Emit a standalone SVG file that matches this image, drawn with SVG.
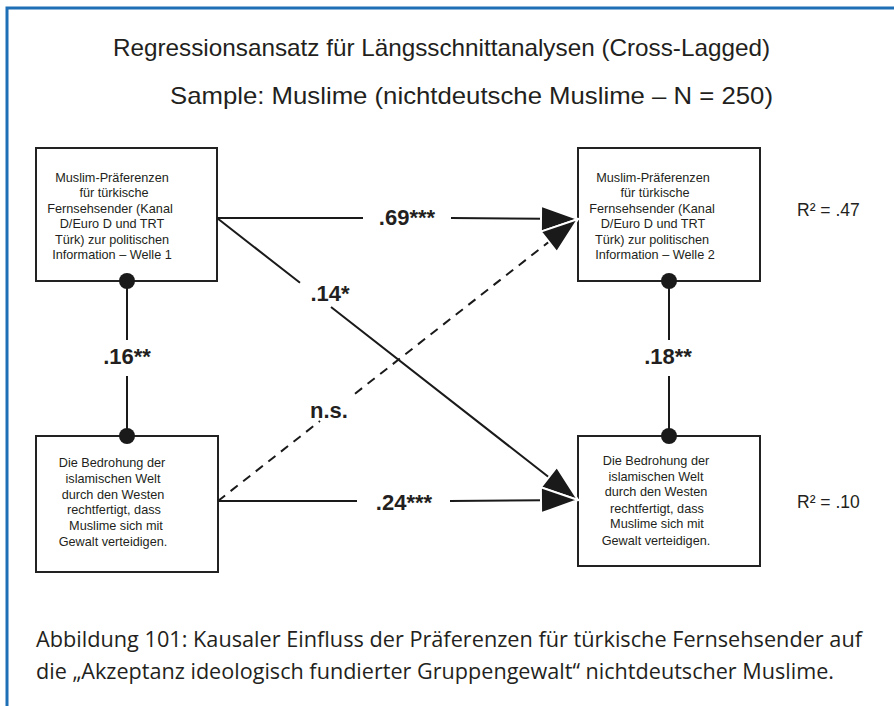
<svg xmlns="http://www.w3.org/2000/svg" width="894" height="706" viewBox="0 0 894 706">
<style>
  .frame { stroke: #1f6fb6; stroke-width: 3; fill: none; }
  .box { fill: #ffffff; stroke: #222222; stroke-width: 2; }
  .bt { font-family: "Liberation Sans", Arial, sans-serif; font-size: 12.7px; fill: #231f20; text-anchor: middle; }
  .lbl { font-family: "Liberation Sans", Arial, sans-serif; font-size: 22px; font-weight: bold; fill: #231f20; text-anchor: middle; }
  .r2 { font-family: "Liberation Sans", Arial, sans-serif; font-size: 17.5px; fill: #231f20; }
  .title { font-family: "Liberation Sans", Arial, sans-serif; font-size: 24px; fill: #231f20; }
  .cap { font-family: "Open Sans", "Noto Sans", sans-serif; font-size: 21px; fill: #231f20; }
  .edge { stroke: #1a1a1a; stroke-width: 2; fill: none; }
  .dash { stroke-dasharray: 9 7; }
  .dot { fill: #1a1a1a; }
</style>
<defs>
  <marker id="arrow" markerUnits="userSpaceOnUse" markerWidth="42" markerHeight="30" viewBox="0 0 42 30" refX="39" refY="15" orient="auto">
    <path d="M2,2 L39,15 L2,28 z" fill="#1a1a1a" stroke="#ffffff" stroke-width="2" stroke-linejoin="miter"/>
  </marker>
</defs>
<rect width="894" height="706" fill="#ffffff"/>
<path class="frame" d="M7,706 L7,8 L894,8"/>

<g id="title">
  <text class="title" x="113" y="56" textLength="657" lengthAdjust="spacingAndGlyphs">Regressionsansatz für Längsschnittanalysen (Cross-Lagged)</text>
  <text class="title" x="170" y="104" textLength="603" lengthAdjust="spacingAndGlyphs">Sample: Muslime (nichtdeutsche Muslime – N = 250)</text>
</g>

<g id="node-tl">
  <rect class="box" x="36" y="148" width="181" height="133"/>
  <text class="bt" x="112" y="182">Muslim-Präferenzen</text>
  <text class="bt" x="114" y="197">für türkische</text>
  <text class="bt" x="110" y="213">Fernsehsender (Kanal</text>
  <text class="bt" x="112" y="228">D/Euro D und TRT</text>
  <text class="bt" x="112" y="244">Türk) zur politischen</text>
  <text class="bt" x="112" y="259">Information  – Welle 1</text>
</g>

<g id="node-tr">
  <rect class="box" x="578" y="148" width="182" height="133"/>
  <text class="bt" x="653" y="182">Muslim-Präferenzen</text>
  <text class="bt" x="655" y="197">für türkische</text>
  <text class="bt" x="652" y="213">Fernsehsender (Kanal</text>
  <text class="bt" x="653" y="228">D/Euro D und TRT</text>
  <text class="bt" x="652" y="244">Türk) zur politischen</text>
  <text class="bt" x="655" y="259">Information – Welle 2</text>
</g>

<g id="node-bl">
  <rect class="box" x="36" y="436" width="182" height="136"/>
  <text class="bt" x="112" y="467">Die Bedrohung der</text>
  <text class="bt" x="113" y="483">islamischen Welt</text>
  <text class="bt" x="113" y="499">durch den Westen</text>
  <text class="bt" x="114" y="514">rechtfertigt, dass</text>
  <text class="bt" x="116" y="530">Muslime sich mit</text>
  <text class="bt" x="113" y="546">Gewalt verteidigen.</text>
</g>

<g id="node-br">
  <rect class="box" x="578" y="436" width="182" height="130"/>
  <text class="bt" x="656" y="465">Die Bedrohung der</text>
  <text class="bt" x="656" y="481">islamischen Welt</text>
  <text class="bt" x="656" y="496">durch den Westen</text>
  <text class="bt" x="657" y="513">rechtfertigt, dass</text>
  <text class="bt" x="657" y="528">Muslime sich mit</text>
  <text class="bt" x="656" y="545">Gewalt verteidigen.</text>
</g>

<g id="connectors">
  <path class="edge" d="M127,281 L127,340 M127,376 L127,436"/>
  <path class="edge" d="M669,281 L669,340 M669,376 L669,436"/>
  <path class="edge" d="M217,218 L363,218 M451,218 L578,219" marker-end="url(#arrow)"/>
  <path class="edge" d="M217,218 L300,282.8 M331,307 L578,500" marker-end="url(#arrow)"/>
  <path class="edge dash" d="M218,501 L320,421 M355,393.7 L578,219" marker-end="url(#arrow)"/>
  <path class="edge" d="M218,501 L357,501 M450,501 L578,500" marker-end="url(#arrow)"/>
  <circle class="dot" cx="127" cy="281" r="8"/>
  <circle class="dot" cx="127" cy="436" r="8"/>
  <circle class="dot" cx="669" cy="281" r="8"/>
  <circle class="dot" cx="669" cy="436" r="8"/>
  <text class="lbl" x="407" y="225">.69***</text>
  <text class="lbl" x="330" y="301">.14*</text>
  <text class="lbl" x="329" y="418">n.s.</text>
  <text class="lbl" x="404" y="510">.24***</text>
  <text class="lbl" x="127" y="364">.16**</text>
  <text class="lbl" x="668" y="364">.18**</text>
</g>

<g id="r2-top"><text class="r2" x="797" y="216">R² = .47</text></g>
<g id="r2-bottom"><text class="r2" x="797" y="508">R² = .10</text></g>

<g id="caption">
  <text class="cap" x="36" y="647" textLength="826" lengthAdjust="spacingAndGlyphs">Abbildung 101: Kausaler Einfluss der Präferenzen für türkische Fernsehsender auf</text>
  <text class="cap" x="36" y="679" textLength="798" lengthAdjust="spacingAndGlyphs">die „Akzeptanz ideologisch fundierter Gruppengewalt“ nichtdeutscher Muslime.</text>
</g>
</svg>
